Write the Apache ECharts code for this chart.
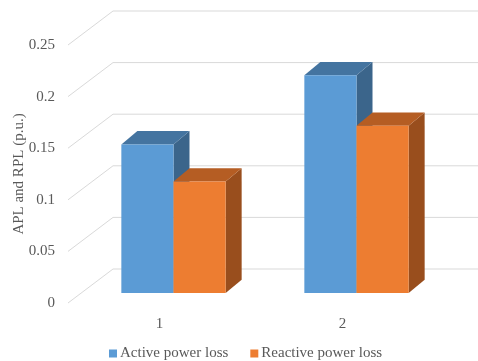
<!DOCTYPE html>
<html>
<head>
<meta charset="utf-8">
<script src="https://cdn.jsdelivr.net/npm/echarts@6/dist/echarts.min.js"></script>
<style>
  html, body { margin: 0; padding: 0; background: #fff; }
  #chart { width: 478px; height: 361px; }
</style>
</head>
<body>
<div id="chart"></div>
<script>
// Power loss per case (p.u.)
const categories = ['1', '2'];
const activeLoss = [0.144, 0.211];
const reactiveLoss = [0.108, 0.162];
const yTicks = [0, 0.05, 0.1, 0.15, 0.2, 0.25];

const FONT = 'Liberation Serif, Times New Roman, serif';
const TEXT = '#595959';

// Oblique 3D projection: back wall offset, bar placement depth and bar thickness (px)
const WALL = [45, -34];
const BAR_FRONT = [14, -10];
const BAR_DEPTH = [16, -13.3];
const BAR_FRACTION = 0.285;

const palette = [
  { front: '#5B9BD5', top: '#4474A0', side: '#3B658B' },
  { front: '#ED7D31', top: '#B55D23', side: '#994E1D' }
];

function wallRender(params, api) {
  const cs = params.coordSys;
  const y = api.coord([0, api.value(1)])[1];
  const x0 = cs.x;
  const x1 = cs.x + cs.width;
  return {
    type: 'polyline',
    shape: { points: [[x0, y], [x0 + WALL[0], y + WALL[1]], [x1 + WALL[0], y + WALL[1]]] },
    style: { stroke: '#D9D9D9', lineWidth: 1, fill: null },
    silent: true
  };
}

function barRender(seriesIdx) {
  const c = palette[seriesIdx];
  return function (params, api) {
    const i = api.value(0);
    const v = api.value(1);
    const top = api.coord([i, v]);
    const base = api.coord([i, 0]);
    const w = api.size([1, 0])[0] * BAR_FRACTION;
    const x0 = top[0] + (seriesIdx === 0 ? -w : 0) + BAR_FRONT[0];
    const x1 = x0 + w;
    const yt = top[1] + BAR_FRONT[1];
    const yb = base[1] + BAR_FRONT[1];
    const dx = BAR_DEPTH[0], dy = BAR_DEPTH[1];
    return {
      type: 'group',
      children: [
        {
          type: 'polygon',
          shape: { points: [[x1, yt], [x1 + dx, yt + dy], [x1 + dx, yb + dy], [x1, yb]] },
          style: { fill: c.side }
        },
        {
          type: 'polygon',
          shape: { points: [[x0, yt], [x0 + dx, yt + dy], [x1 + dx, yt + dy], [x1, yt]] },
          style: { fill: c.top }
        },
        {
          type: 'rect',
          shape: { x: x0, y: yt, width: w, height: yb - yt },
          style: { fill: c.front }
        }
      ]
    };
  };
}

const chart = echarts.init(document.getElementById('chart'));
chart.setOption({
  animation: false,
  backgroundColor: '#fff',
  grid: { left: 68, right: 44, top: 45, bottom: 58, containLabel: false, outerBoundsMode: 'none' },
  legend: {
    left: 104,
    top: 341,
    icon: 'rect',
    itemWidth: 8,
    itemHeight: 8,
    itemGap: 22,
    textStyle: { fontFamily: FONT, fontSize: 15, color: TEXT, padding: [0, 0, 0, -2] },
    data: ['Active power loss', 'Reactive power loss']
  },
  xAxis: {
    type: 'category',
    data: categories,
    axisLine: { show: false },
    axisTick: { show: false },
    axisLabel: { fontFamily: FONT, fontSize: 15, color: TEXT, margin: 14 }
  },
  yAxis: {
    type: 'value',
    min: 0,
    max: 0.25,
    interval: 0.05,
    name: 'APL and RPL (p.u.)',
    nameLocation: 'middle',
    nameGap: 41,
    nameMoveOverlap: false,
    nameTextStyle: { fontFamily: FONT, fontSize: 15, color: TEXT },
    axisLine: { show: false },
    axisTick: { show: false },
    splitLine: { show: false },
    axisLabel: { fontFamily: FONT, fontSize: 15, color: TEXT, margin: 13 }
  },
  series: [
    {
      type: 'custom',
      name: 'wall',
      z: 1,
      silent: true,
      renderItem: wallRender,
      encode: { x: 0, y: 1 },
      data: yTicks.map(v => [0, v])
    },
    {
      type: 'custom',
      name: 'Active power loss',
      z: 2,
      itemStyle: { color: palette[0].front },
      renderItem: barRender(0),
      encode: { x: 0, y: 1 },
      data: activeLoss.map((v, i) => [i, v])
    },
    {
      type: 'custom',
      name: 'Reactive power loss',
      z: 3,
      itemStyle: { color: palette[1].front },
      renderItem: barRender(1),
      encode: { x: 0, y: 1 },
      data: reactiveLoss.map((v, i) => [i, v])
    }
  ]
});
</script>
</body>
</html>
